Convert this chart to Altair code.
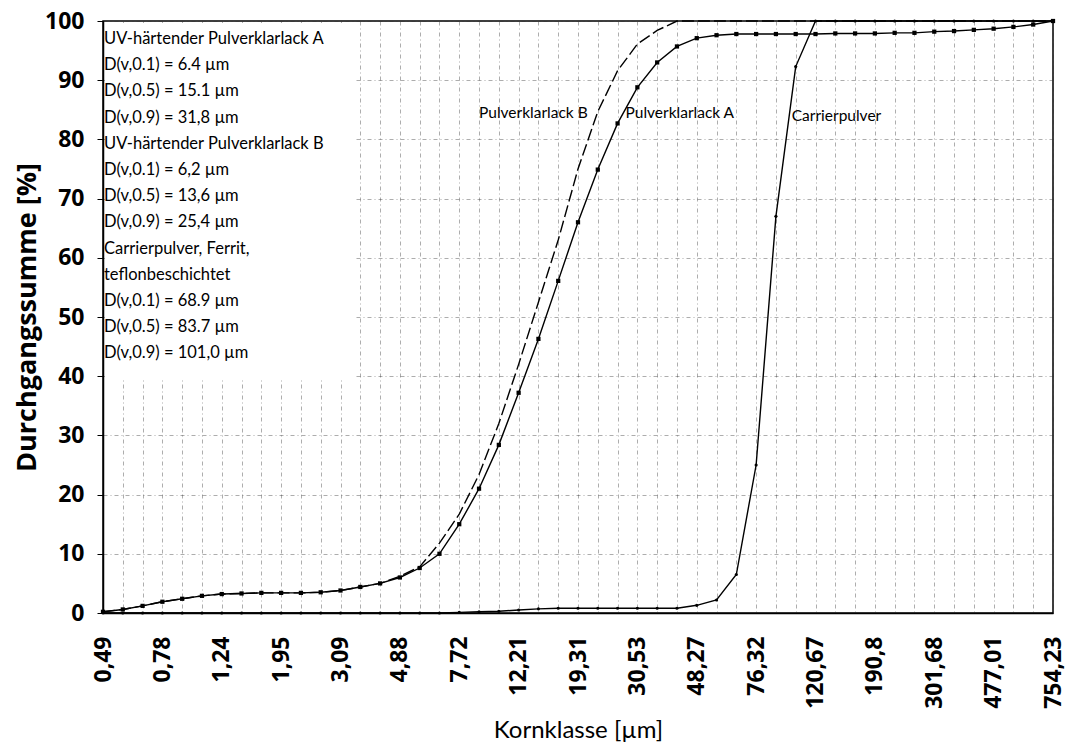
import altair as alt
import pandas as pd

# x-axis tick labels (every third size class), in µm
size_labels = ["0,49", "0,78", "1,24", "1,95", "3,09", "4,88", "7,72", "12,21",
               "19,31", "30,53", "48,27", "76,32", "120,67", "190,8", "301,68",
               "477,01", "754,23"]

# cumulative passing [%] at each of the 49 size classes (3 per labelled class)
lack_a = [0.2, 0.6, 1.2, 1.9, 2.4, 2.9, 3.2, 3.3, 3.4, 3.4, 3.4, 3.5, 3.8, 4.4, 5.0, 6.0, 7.6,
          10.0, 15.0, 21.0, 28.4, 37.2, 46.3, 56.1, 66.0, 74.9, 82.7, 88.8, 93.0, 95.7, 97.1,
          97.6, 97.8, 97.8, 97.8, 97.8, 97.8, 97.9, 97.9, 97.9, 98.0, 98.0, 98.2, 98.3, 98.5,
          98.7, 99.0, 99.4, 100.0]
lack_b = [0.2, 0.6, 1.2, 1.9, 2.4, 2.9, 3.2, 3.3, 3.4, 3.4, 3.4, 3.5, 3.8, 4.4, 5.0, 6.2, 7.8,
          11.8, 16.7, 23.4, 32.0, 42.0, 52.5, 63.0, 75.0, 84.7, 91.6, 96.1, 98.4, 100.0,
          100.0, 100.0, 100.0, 100.0, 100.0, 100.0, 100.0, 100.0, 100.0, 100.0, 100.0, 100.0,
          100.0, 100.0, 100.0, 100.0, 100.0, 100.0, 100.0]
carrier = [0.0, 0.0, 0.0, 0.0, 0.0, 0.0, 0.0, 0.0, 0.0, 0.0, 0.0, 0.0, 0.0, 0.0, 0.0, 0.0, 0.0, 0.0,
           0.1, 0.2, 0.3, 0.5, 0.7, 0.8, 0.8, 0.8, 0.8, 0.8, 0.8, 0.8, 1.3, 2.2,
           6.5, 25.0, 67.0, 92.3, 100.0,
           100.0, 100.0, 100.0, 100.0, 100.0, 100.0, 100.0, 100.0, 100.0, 100.0, 100.0, 100.0]

legend_lines = [
    "UV-härtender Pulverklarlack A",
    "D(v,0.1) = 6.4 µm",
    "D(v,0.5) = 15.1 µm",
    "D(v,0.9) = 31,8 µm",
    "UV-härtender Pulverklarlack B",
    "D(v,0.1) = 6,2 µm",
    "D(v,0.5) = 13,6 µm",
    "D(v,0.9) = 25,4 µm",
    "Carrierpulver, Ferrit,",
    "teflonbeschichtet",
    "D(v,0.1) = 68.9 µm",
    "D(v,0.5) = 83.7 µm",
    "D(v,0.9) = 101,0 µm",
]

ann_text = ["Pulverklarlack B", "Pulverklarlack A", "Carrierpulver"]
ann_k = [19.0, 26.4, 34.8]
ann_v = [84.4, 84.4, 83.9]

n = len(lack_a)
ks = list(range(n))
df_a = pd.DataFrame({"k": ks, "v": lack_a})
df_b = pd.DataFrame({"k": ks, "v": lack_b})
df_c = pd.DataFrame({"k": ks, "v": carrier})
df_ann = pd.DataFrame({"k": ann_k, "v": ann_v, "t": ann_text})
df_leg = pd.DataFrame({"t": ["\n".join(legend_lines)]})

label_js = "[" + ",".join("'" + s + "'" for s in size_labels) + "]"
label_expr = f"datum.value % 3 === 0 ? {label_js}[datum.value / 3] : ''"

GRID_DASH = [4, 3, 1, 3]

x_enc = alt.X(
    "k:Q",
    scale=alt.Scale(domain=[0, n - 1], nice=False, zero=False),
    axis=alt.Axis(
        values=ks, labelExpr=label_expr, labelAngle=270, labelOverlap=False,
        labelFlush=False, labelFont="Open Sans", labelFontWeight="bold",
        labelFontSize=23, labelColor="black", labelPadding=23, ticks=False,
        title="Kornklasse [µm]", titleFont="Lato", titleFontWeight="normal",
        titleFontSize=24, titleColor="black", titlePadding=10,
        grid=True, gridDash=GRID_DASH, gridColor="#333333", gridOpacity=0.5,
        gridWidth=0.8, domainColor="black", domainWidth=1.5,
    ),
)
y_enc = alt.Y(
    "v:Q",
    scale=alt.Scale(domain=[0, 100], nice=False),
    axis=alt.Axis(
        values=list(range(0, 101, 10)), labelFont="Open Sans", labelFontWeight="bold",
        labelFontSize=23, labelColor="black", labelPadding=13, tickSize=6,
        tickColor="black", title="Durchgangssumme [%]", titleFont="Open Sans",
        titleFontWeight="bold", titleFontSize=27, titleColor="black", titlePadding=3,
        grid=True, gridDash=GRID_DASH, gridColor="#333333", gridOpacity=0.5,
        gridWidth=0.8, domainColor="black", domainWidth=1.5,
    ),
)

line_b = alt.Chart(df_b).mark_line(color="black", strokeWidth=1.4, strokeDash=[12, 4]).encode(
    x=x_enc, y=y_enc)

base_a = alt.Chart(df_a).encode(x=x_enc, y=y_enc)
line_a = base_a.mark_line(color="black", strokeWidth=1.4)
pts_a = base_a.mark_point(shape="square", filled=True, size=18, color="black", opacity=1)

base_c = alt.Chart(df_c).encode(x=x_enc, y=y_enc)
line_c = base_c.mark_line(color="black", strokeWidth=1.4)
pts_c = base_c.mark_circle(size=10, color="black", opacity=1)

box = alt.Chart(df_leg).mark_rect(color="white").encode(
    x=alt.value(2), x2=alt.value(252), y=alt.value(2), y2=alt.value(358))
box_text = alt.Chart(df_leg).mark_text(
    align="left", baseline="top", font="Lato", fontSize=16.5, lineHeight=26.2,
    lineBreak="\n", color="black").encode(
    x=alt.value(1), y=alt.value(10), text="t:N")

ann = alt.Chart(df_ann).mark_text(
    align="left", baseline="middle", font="Lato", fontSize=15.5, color="black").encode(
    x=x_enc, y=y_enc, text="t:N")

chart = alt.layer(line_b, box, box_text, line_a, pts_a, line_c, pts_c, ann).properties(
    width=950, height=592,
    padding={"left": 95, "top": 13, "right": 14, "bottom": 133},
    autosize=alt.AutoSizeParams(type="none"),
    background="white",
).configure_view(stroke="black", strokeWidth=1.5)

chart.save("out.html", embed_options={"renderer": "svg", "actions": False})
